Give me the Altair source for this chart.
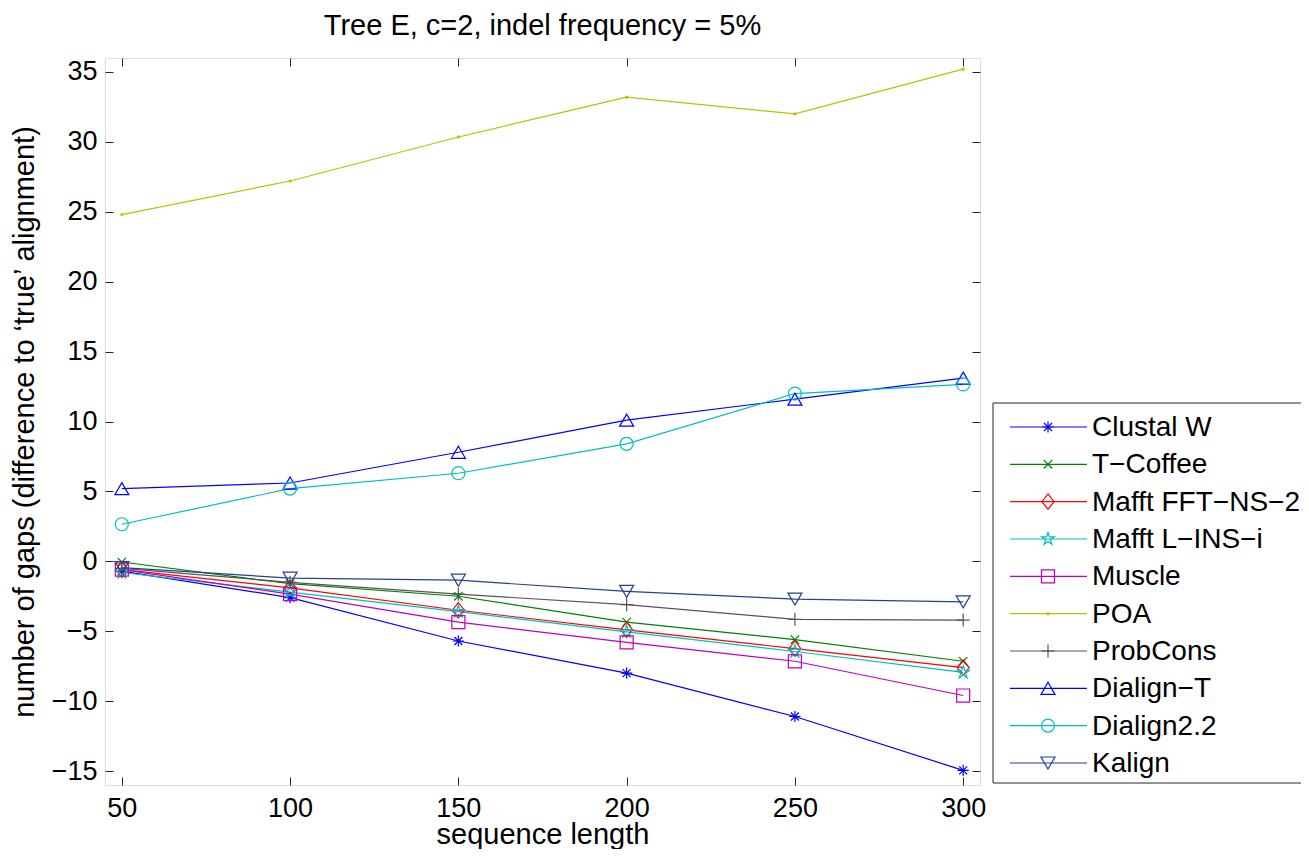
import altair as alt
import pandas as pd

# ---------------- data ----------------
lengths = [50, 100, 150, 200, 250, 300]
series_names = ["Clustal W", "T\u2212Coffee", "Mafft FFT\u2212NS\u22122", "Mafft L\u2212INS\u2212i",
                "Muscle", "POA", "ProbCons", "Dialign\u2212T", "Dialign2.2", "Kalign"]
clustalw = [-0.7, -2.6, -5.7, -8.0, -11.1, -14.95]
tcoffee = [-0.05, -1.6, -2.5, -4.35, -5.6, -7.15]
mafft_fft = [-0.6, -1.9, -3.5, -4.9, -6.25, -7.6]
mafft_lins = [-0.8, -2.2, -3.6, -5.05, -6.45, -7.95]
muscle = [-0.6, -2.35, -4.35, -5.8, -7.15, -9.6]
poa = [24.8, 27.2, 30.35, 33.2, 32.0, 35.2]
probcons = [-0.5, -1.5, -2.35, -3.1, -4.15, -4.2]
dialign_t = [5.2, 5.6, 7.8, 10.1, 11.6, 13.1]
dialign22 = [2.65, 5.2, 6.3, 8.4, 12.0, 12.65]
kalign = [-0.45, -1.2, -1.35, -2.15, -2.7, -2.9]
all_values = [clustalw, tcoffee, mafft_fft, mafft_lins, muscle, poa, probcons, dialign_t, dialign22, kalign]

x_ticks = [50, 100, 150, 200, 250, 300]
y_ticks = [-15, -10, -5, 0, 5, 10, 15, 20, 25, 30, 35]

colors = ["#0000FF", "#008000", "#FF0000", "#00BFBF", "#BF00BF",
          "#BFBF00", "#555555", "#0000FF", "#00BFBF", "#24408E"]

star = "M0,-0.95L0.213,-0.294L0.904,-0.294L0.345,0.112L0.558,0.769L0,0.363L-0.558,0.769L-0.345,0.112L-0.904,-0.294L-0.213,-0.294Z"
shapes = [
    "M-0.8,0L0.8,0M0,-0.8L0,0.8M-0.57,-0.57L0.57,0.57M-0.57,0.57L0.57,-0.57",  # asterisk
    "M-0.6,-0.6L0.6,0.6M-0.6,0.6L0.6,-0.6",                                    # x
    "M0,-1.1L0.85,0L0,1.1L-0.85,0Z",                                           # diamond
    star,                                                                      # pentagram
    "M-0.93,-0.93L0.93,-0.93L0.93,0.93L-0.93,0.93Z",                           # square
    "M0.15,0A0.15,0.15 0 1,1 -0.15,0A0.15,0.15 0 1,1 0.15,0Z",                 # dot
    "M-0.93,0L0.93,0M0,-0.93L0,0.93",                                          # plus
    "M0,-0.86L1,0.86L-1,0.86Z",                                                # triangle up
    "M0.93,0A0.93,0.93 0 1,1 -0.93,0A0.93,0.93 0 1,1 0.93,0Z",                 # circle
    "M0,0.86L1,-0.86L-1,-0.86Z",                                               # triangle down
]

rows = []
for si, (name, vals) in enumerate(zip(series_names, all_values)):
    for x, v in zip(lengths, vals):
        rows.append({"series": name, "order": si, "length": x, "gaps": v})
df = pd.DataFrame(rows)
legend_df = pd.DataFrame({"series": series_names, "rank": list(range(len(series_names)))})
box_df = pd.DataFrame({"a": [0]})

FONT = "Liberation Sans"
FS = 27      # tick labels
FT = 29      # titles
FL = 28      # legend text
W, H = 875, 727
XDOM = [45, 305]
YDOM = [-16, 36]

color_enc = alt.Color("series:N", scale=alt.Scale(domain=series_names, range=colors), legend=None)
shape_enc = alt.Shape("series:N", scale=alt.Scale(domain=series_names, range=shapes), legend=None)

x_main = alt.X("length:Q", scale=alt.Scale(domain=XDOM, nice=False, zero=False),
               axis=alt.Axis(values=x_ticks, orient="bottom", offset=-8, tickSize=8, domain=False,
                             grid=False, labelPadding=10, tickColor="#262626",
                             title="sequence length", titleBaseline="alphabetic", titleY=66,
                             titleFontSize=FT, titleFontWeight="normal", titleFont=FONT,
                             titleColor="black", labelFont=FONT, labelFontSize=FS, labelColor="black"))
y_main = alt.Y("gaps:Q", scale=alt.Scale(domain=YDOM, nice=False, zero=False),
               axis=alt.Axis(values=y_ticks, orient="left", offset=-8, tickSize=8, domain=False,
                             grid=False, labelPadding=8, tickColor="#262626",
                             title="number of gaps (difference to \u2018true\u2019 alignment)",
                             titleBaseline="alphabetic", titleX=-80, titleAngle=-90,
                             titleFontSize=FT, titleFontWeight="normal", titleFont=FONT,
                             titleColor="black", labelFont=FONT, labelFontSize=FS, labelColor="black"))

lines = alt.Chart(df).mark_line(strokeWidth=1.2).encode(
    x=x_main, y=y_main, color=color_enc, order="length:Q")
points = alt.Chart(df).mark_point(filled=False, strokeWidth=1.2, size=196, opacity=1).encode(
    x=x_main, y=y_main, color=color_enc, shape=shape_enc)
main = alt.layer(lines, points)

# tick-only axes on top and right (MATLAB box style)
x_top = alt.X("length:Q", scale=alt.Scale(domain=XDOM, nice=False, zero=False),
              axis=alt.Axis(values=x_ticks, orient="top", offset=-8, tickSize=8, domain=False,
                            grid=False, labels=False, title=None, tickColor="#262626"))
y_right = alt.Y("gaps:Q", scale=alt.Scale(domain=YDOM, nice=False, zero=False),
                axis=alt.Axis(values=y_ticks, orient="right", offset=-8, tickSize=8, domain=False,
                              grid=False, labels=False, title=None, tickColor="#262626"))
tick_axes = alt.Chart(df).mark_point(opacity=0).encode(x=x_top, y=y_right)

# legend
legend_box = alt.Chart(box_df).mark_rect(fill="white", stroke="#262626", strokeWidth=1).encode(
    x=alt.value(888), x2=alt.value(1220), y=alt.value(345), y2=alt.value(725))
ly = alt.Y("rank:Q", scale=alt.Scale(domain=[0, 9], range=[369, 705]), axis=None)
leg_lines = alt.Chart(legend_df).mark_rule(strokeWidth=1.2).encode(
    x=alt.value(905), x2=alt.value(982), y=ly, color=color_enc)
leg_pts = alt.Chart(legend_df).mark_point(filled=False, strokeWidth=1.2, size=196, opacity=1).encode(
    x=alt.value(943), y=ly, color=color_enc, shape=shape_enc)
leg_text = alt.Chart(legend_df).mark_text(align="left", baseline="middle", font=FONT,
                                          fontSize=FL, color="black", dy=1).encode(
    x=alt.value(987), y=ly, text="series:N")
legend = alt.layer(leg_lines, leg_pts, leg_text)

chart = alt.layer(main, tick_axes, legend_box, legend).resolve_scale(
    x="independent", y="independent"
).properties(
    width=W, height=H,
    title=alt.TitleParams(text="Tree E, c=2, indel frequency = 5%", font=FONT, fontSize=FT,
                          fontWeight="normal", color="black", anchor="middle", frame="group",
                          baseline="alphabetic", offset=22, dy=28),
    autosize=alt.AutoSizeParams(type="none"),
    padding={"left": 97, "top": 50, "right": 321, "bottom": 64},
).configure_view(stroke="#262626", strokeWidth=1).configure(background="white")

chart.save("out.html", embed_options={"renderer": "svg", "actions": False})
